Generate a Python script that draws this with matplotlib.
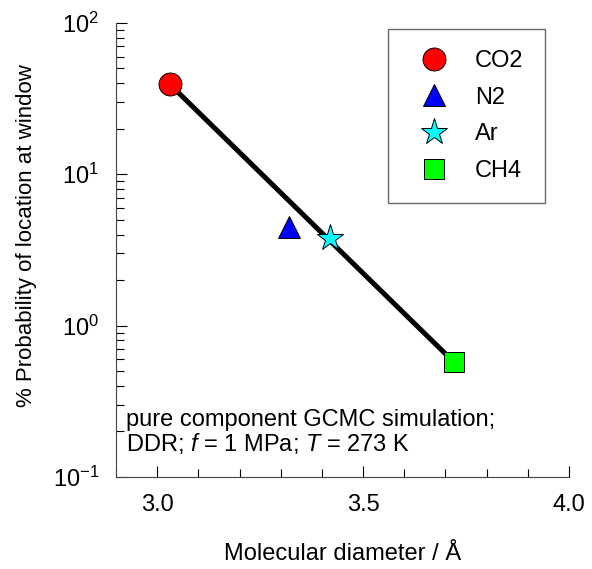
import matplotlib
matplotlib.use("Agg")
import matplotlib.pyplot as plt
from matplotlib.ticker import MultipleLocator, LogLocator, NullFormatter

plt.rcParams["font.family"] = ["Liberation Sans", "DejaVu Sans"]
plt.rcParams["mathtext.fontset"] = "custom"
plt.rcParams["mathtext.rm"] = "Liberation Sans"
plt.rcParams["mathtext.it"] = "Liberation Sans:italic"

# data
molecules = ["CO2", "N2", "Ar", "CH4"]
diameter = [3.03, 3.32, 3.42, 3.72]
probability = [39.5, 4.5, 3.8, 0.577]
markers = ["o", "^", "*", "s"]
colors = ["#ff0000", "#0000ff", "#00ffff", "#00ff00"]
sizes = [16.5, 16.5, 20, 14.5]

# trend line through the end points (straight on log scale)
fit_x = [3.03, 3.72]
fit_y = [39.5, 0.577]

fig = plt.figure(figsize=(5.92, 5.69), dpi=100)
ax = fig.add_axes([0.196, 0.1617, 0.765, 0.798])

ax.plot(fit_x, fit_y, color="black", linewidth=3.6, zorder=2, solid_capstyle="butt")
for name, x, y, m, c, s in zip(molecules, diameter, probability, markers, colors, sizes):
    ax.plot([x], [y], linestyle="none", marker=m, markersize=s, markerfacecolor=c,
            markeredgecolor="black", markeredgewidth=0.7, label=name, zorder=3)

ax.set_yscale("log")
ax.set_xlim(2.9, 4.0)
ax.set_ylim(0.1, 100)

ax.xaxis.set_major_locator(MultipleLocator(0.5))
ax.xaxis.set_minor_locator(MultipleLocator(0.1))
ax.xaxis.set_major_formatter(matplotlib.ticker.FormatStrFormatter("%.1f"))
ax.yaxis.set_major_locator(LogLocator(base=10, numticks=10))
ax.yaxis.set_minor_locator(LogLocator(base=10, subs=range(2, 10), numticks=10))
ax.yaxis.set_minor_formatter(NullFormatter())

ax.tick_params(which="major", direction="in", length=8, width=0.8, labelsize=17, pad=12)
ax.tick_params(which="minor", direction="in", length=6, width=0.8)
ax.tick_params(axis="x", which="both", top=False)
ax.tick_params(axis="y", which="both", right=False)
ax.spines["top"].set_visible(False)
ax.spines["right"].set_visible(False)
for sp in ["left", "bottom"]:
    ax.spines[sp].set_color("#444444")

ax.set_xlabel("Molecular diameter / Å", fontsize=17, labelpad=20)
ax.set_ylabel("% Probability of location at window", fontsize=16)
ax.yaxis.set_label_coords(-0.175, 0.531)

ax.text(0.022, 0.149, "pure component GCMC simulation;\nDDR; $f$ = 1 MPa; $T$ = 273 K",
        transform=ax.transAxes, fontsize=17, va="top", ha="left", linespacing=1.0)

leg = ax.legend(loc="upper right", bbox_to_anchor=(0.947, 0.987), fontsize=17,
                frameon=True, fancybox=False, edgecolor="#444444", borderpad=0.9,
                labelspacing=0.62, handlelength=2.1, handletextpad=0.68,
                borderaxespad=0, numpoints=1)
leg.get_frame().set_linewidth(1.0)

fig.savefig("out.png", dpi=100)
